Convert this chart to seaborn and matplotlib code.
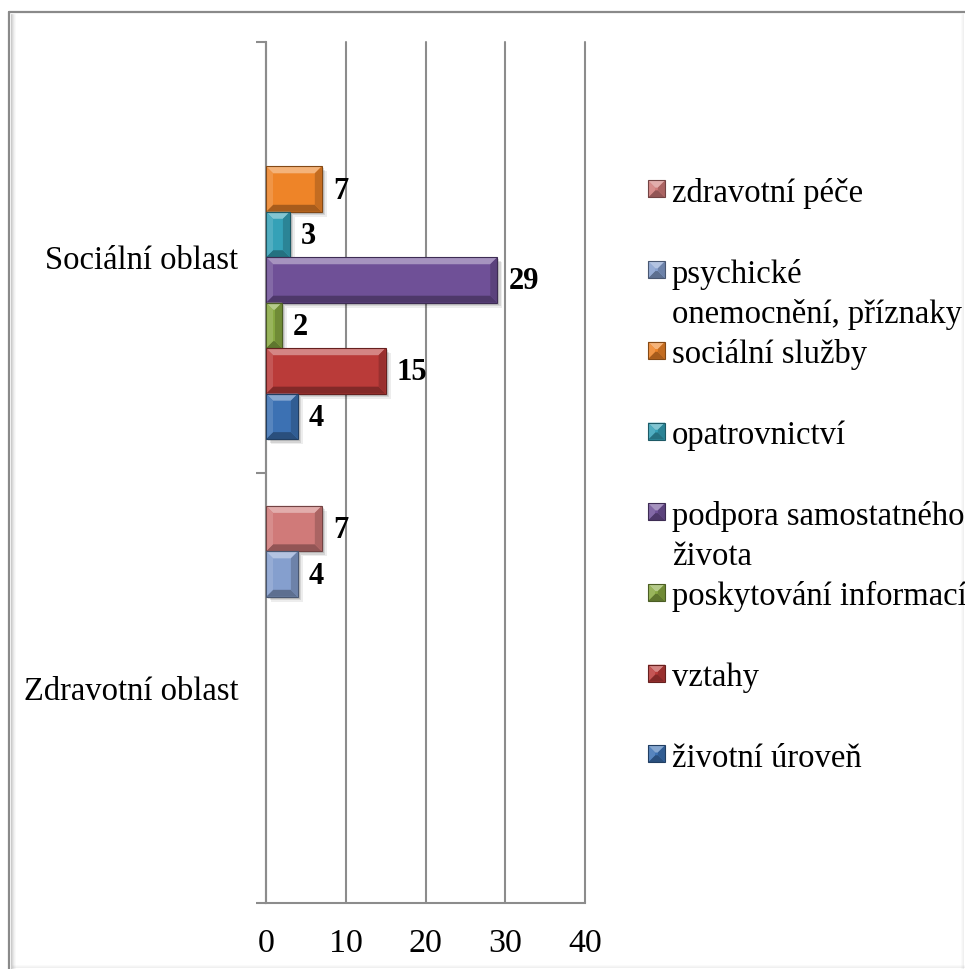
import numpy as np
import pandas as pd
import seaborn as sns
import matplotlib.pyplot as plt
from matplotlib.patches import Polygon, Rectangle
from matplotlib.lines import Line2D
from matplotlib.transforms import Affine2D
from matplotlib.colors import to_rgb

# --- data -------------------------------------------------------------
oblasti = ["Sociální oblast", "Zdravotní oblast"]
kategorie = [
    "zdravotní péče",
    "psychické onemocnění, příznaky",
    "sociální služby",
    "opatrovnictví",
    "podpora samostatného života",
    "poskytování informací",
    "vztahy",
    "životní úroveň",
]
socialni = [None, None, 7, 3, 29, 2, 15, 4]
zdravotni = [7, 4, None, None, None, None, None, None]
barvy = ["#D07A79", "#859FCE", "#EE8428", "#35A1B7",
         "#6F5097", "#88A942", "#BA3B39", "#3C71B3"]
legenda_popisky = [
    "zdravotní péče",
    "psychické\nonemocnění, příznaky",
    "sociální služby",
    "opatrovnictví",
    "podpora samostatného\nživota",
    "poskytování informací",
    "vztahy",
    "životní úroveň",
]
osa_x = [0, 10, 20, 30, 40]

rows = []
for oblast, hodnoty in zip(oblasti, [socialni, zdravotni]):
    for kat, v in zip(kategorie, hodnoty):
        if v is not None:
            rows.append({"oblast": oblast, "kategorie": kat, "pocet": v})
df = pd.DataFrame(rows)

# --- style ------------------------------------------------------------
sns.set_theme(style="white")
plt.rcParams["font.family"] = ["Liberation Serif", "DejaVu Serif"]
GRID = "#8c8c8c"

W, H = 965, 969
fig = plt.figure(figsize=(W / 100, H / 100), dpi=100)
ax = fig.add_axes([266 / W, 1 - 903 / H, 319 / W, 861 / H])

# pixel coordinates measured from the top-left corner of the figure
tpx = Affine2D().scale(1 / W, -1 / H).translate(0, 1) + fig.transFigure


def mix(c, t, amount):
    c = np.array(to_rgb(c))
    t = np.array(to_rgb(t))
    return tuple(c + (t - c) * amount)


def bevel(target, trans, x0, x1, yt, yb, bx, by, color, z):
    faces = [
        ([(x0, yt), (x1, yt), (x1 - bx, yt + by), (x0 + bx, yt + by)], mix(color, "white", 0.38)),
        ([(x0, yb), (x1, yb), (x1 - bx, yb - by), (x0 + bx, yb - by)], mix(color, "black", 0.30)),
        ([(x0, yt), (x0 + bx, yt + by), (x0 + bx, yb - by), (x0, yb)], mix(color, "white", 0.14)),
        ([(x1, yt), (x1 - bx, yt + by), (x1 - bx, yb - by), (x1, yb)], mix(color, "black", 0.18)),
    ]
    for pts, fc in faces:
        target.add_artist(Polygon(pts, closed=True, facecolor=fc, edgecolor="none",
                                  transform=trans, zorder=z))
    target.add_artist(Polygon([(x0, yt), (x1, yt), (x1, yb), (x0, yb)], closed=True,
                              facecolor="none", edgecolor=mix(color, "black", 0.45),
                              linewidth=0.8, transform=trans, zorder=z + 0.1))


# --- bars ---------------------------------------------------------------
sns.barplot(
    data=df, y="oblast", x="pocet", hue="kategorie",
    order=oblasti, hue_order=kategorie,
    palette=dict(zip(kategorie, barvy)), saturation=1,
    orient="h", width=0.845, dodge=True, legend=False,
    linewidth=0, zorder=3, ax=ax,
)
ax.set_xlim(0, 40)
ax.set_ylim(1.5, -0.5)

ppx = 319 / 40.0   # pixels per x unit
ppy = 861 / 2.0    # pixels per y unit

for p in list(ax.patches):
    w = p.get_width()
    if not np.isfinite(w) or w <= 0:
        continue
    x0, y0, h = p.get_x(), p.get_y(), p.get_height()
    col = p.get_facecolor()[:3]
    # soft drop shadow
    for k, a in [(5, 0.07), (3.5, 0.10), (2, 0.12)]:
        ax.add_patch(Rectangle((x0 + k / ppx, y0 + k / ppy), w, h,
                               facecolor="black", alpha=a, edgecolor="none", zorder=2))
    bx = min(7 / ppx, w / 2)
    by = min(7 / ppy, h / 2)
    bevel(ax, ax.transData, x0, x0 + w, y0, y0 + h, bx, by, col, 4)
    ax.annotate(f"{int(round(w))}", xy=(x0 + w, y0 + h / 2), xytext=(11, -2),
                textcoords="offset pixels", ha="left", va="center",
                fontsize=22, fontweight="bold", color="black", zorder=6)

# --- axes ---------------------------------------------------------------
ax.set_xlabel("")
ax.set_ylabel("")
ax.set_xticks(osa_x)
ax.set_xticklabels([str(v) for v in osa_x])
ax.set_yticks([-0.5, 0.5, 1.5])
ax.set_yticklabels([])
ax.set_yticks([0, 1], minor=True)
ax.set_yticklabels(oblasti, minor=True)
ax.tick_params(axis="x", which="major", direction="out", length=7, width=1.5,
               color=GRID, pad=11, labelsize=24.5, labelcolor="black")
ax.tick_params(axis="y", which="major", direction="out", length=7, width=1.5,
               color=GRID, left=True)
ax.tick_params(axis="y", which="minor", length=0, pad=20, labelsize=23.5,
               labelcolor="black")
ax.grid(axis="x", color=GRID, linewidth=1.5)
ax.grid(axis="y", visible=False)
ax.set_axisbelow(True)
for gl in ax.get_xgridlines():
    gl.set_clip_on(False)
for s in ["top", "right"]:
    ax.spines[s].set_visible(False)
for s in ["left", "bottom"]:
    ax.spines[s].set_color(GRID)
    ax.spines[s].set_linewidth(1.5)

# --- legend -------------------------------------------------------------
for i, (lab, col) in enumerate(zip(legenda_popisky, barvy)):
    base = 202 + i * 80.7
    cy = base - 13
    s = 17
    fig.add_artist(Rectangle((648, cy - s / 2), s, s, facecolor=col,
                             edgecolor="none", transform=tpx, zorder=3))
    bevel(fig, tpx, 648, 648 + s, cy - s / 2, cy + s / 2, s * 0.42, s * 0.42, col, 4)
    for j, line in enumerate(lab.split("\n")):
        fig.text(672 / W, 1 - (base + j * 40) / H, line, ha="left", va="baseline",
                 fontsize=23.5, color="black")

# --- chart frame -----------------------------------------------------------
for k, a in enumerate([0.20, 0.14, 0.09, 0.05, 0.025]):
    fig.add_artist(Line2D([11 + k, 11 + k], [14, H], color="black", alpha=a,
                          linewidth=0.75, transform=tpx))
for k, a in enumerate([0.06, 0.04, 0.02]):
    fig.add_artist(Line2D([12, W], [H - 2 - k, H - 2 - k], color="black", alpha=a,
                          linewidth=0.75, transform=tpx))
    fig.add_artist(Line2D([W - 2 - k, W - 2 - k], [14, H], color="black", alpha=a,
                          linewidth=0.75, transform=tpx))
fig.add_artist(Line2D([9, W], [12, 12], color="#8a8a8a", linewidth=1.6, transform=tpx))
fig.add_artist(Line2D([9, 9], [12, H], color="#8a8a8a", linewidth=1.6, transform=tpx))

fig.savefig("out.png", dpi=100)
